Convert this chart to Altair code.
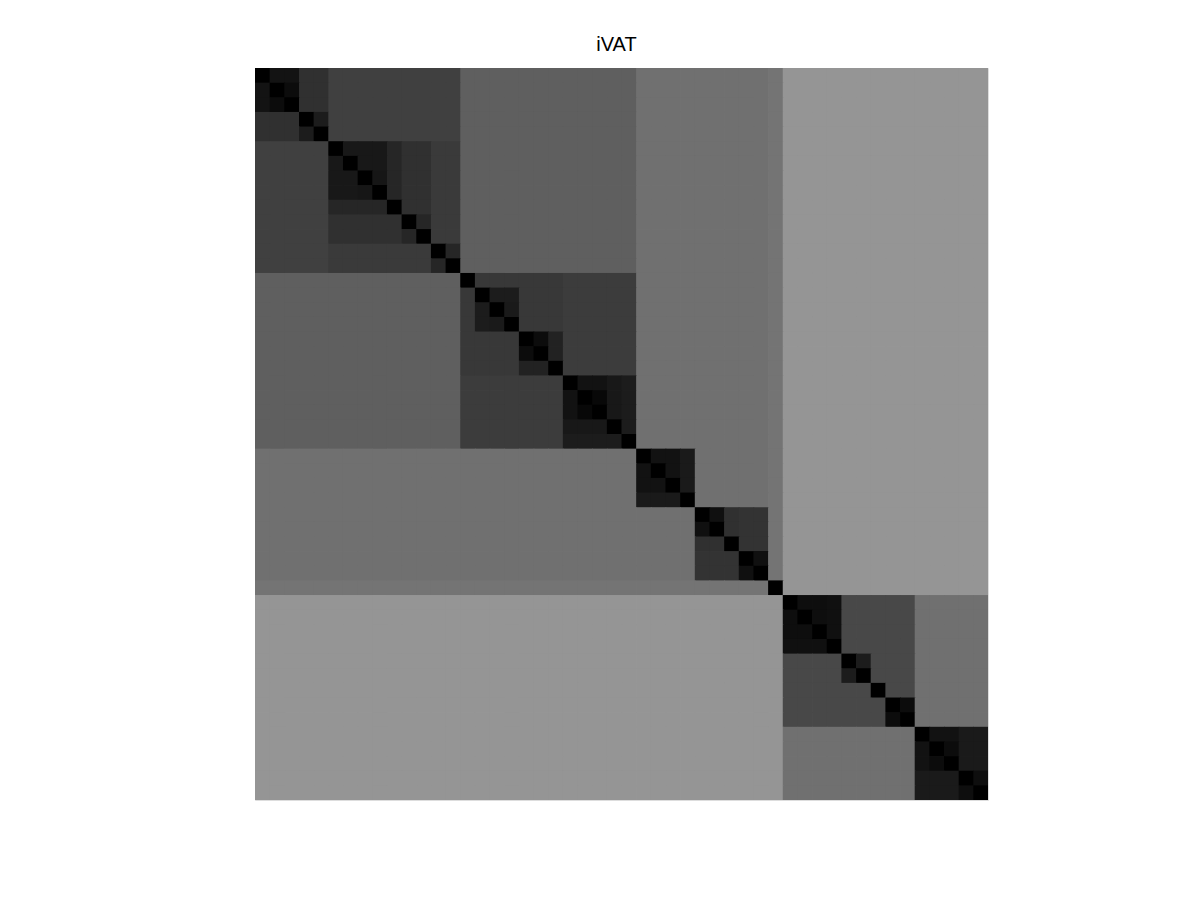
import altair as alt
import pandas as pd

# iVAT: points in VAT (Prim) order; link[k] = dissimilarity of the MST edge
# that attaches point k (k = 1..49) to the points before it.
# Cell (i, j) of the iVAT image = largest link between positions i and j.
link = [0.075, 0.047, 0.188, 0.110, 0.251, 0.094, 0.094, 0.086, 0.149,
        0.188, 0.149, 0.227, 0.149, 0.373, 0.220, 0.110, 0.102, 0.220,
        0.047, 0.133, 0.235, 0.071, 0.031, 0.094, 0.110, 0.439, 0.071,
        0.071, 0.102, 0.439, 0.063, 0.188, 0.200, 0.063, 0.455, 0.584,
        0.055, 0.055, 0.063, 0.282, 0.110, 0.282, 0.282, 0.047, 0.439,
        0.071, 0.047, 0.102, 0.055]
n_points = len(link) + 1
order = list(range(n_points))

rows = []
for i in order:
    for j in order:
        if i == j:
            v = 0.0
        else:
            a, b = min(i, j), max(i, j)
            v = max(link[a:b])
        rows.append({"row": i, "col": j, "d": v})
df = pd.DataFrame(rows)

gray = alt.Scale(domain=[0, 1], range=["#000000", "#ffffff"], interpolate="rgb")

chart = (
    alt.Chart(df)
    .transform_calculate(col_end="datum.col + 1", row_end="datum.row + 1")
    .mark_rect(x2Offset=0.8, y2Offset=0.8, clip=True)
    .encode(
        x=alt.X("col:Q", axis=None, scale=alt.Scale(domain=[0, n_points], nice=False, zero=False)),
        x2="col_end:Q",
        y=alt.Y("row:Q", axis=None, scale=alt.Scale(domain=[0, n_points], nice=False, zero=False, reverse=True)),
        y2="row_end:Q",
        fill=alt.Fill("d:Q", scale=gray, legend=None),
    )
    .properties(
        width=733,
        height=732,
        title=alt.TitleParams("iVAT", fontSize=20, font="Liberation Sans",
                              fontWeight="normal", color="black",
                              anchor="middle", baseline="alphabetic", offset=1,
                              dx=-5, dy=4),
        autosize=alt.AutoSizeParams(type="none"),
        padding={"left": 247, "top": 60, "right": 10, "bottom": 10},
    )
    .configure_view(stroke=None)
    .configure(background="white")
)

chart.save("out.html", embed_options={"renderer": "svg", "actions": False})
